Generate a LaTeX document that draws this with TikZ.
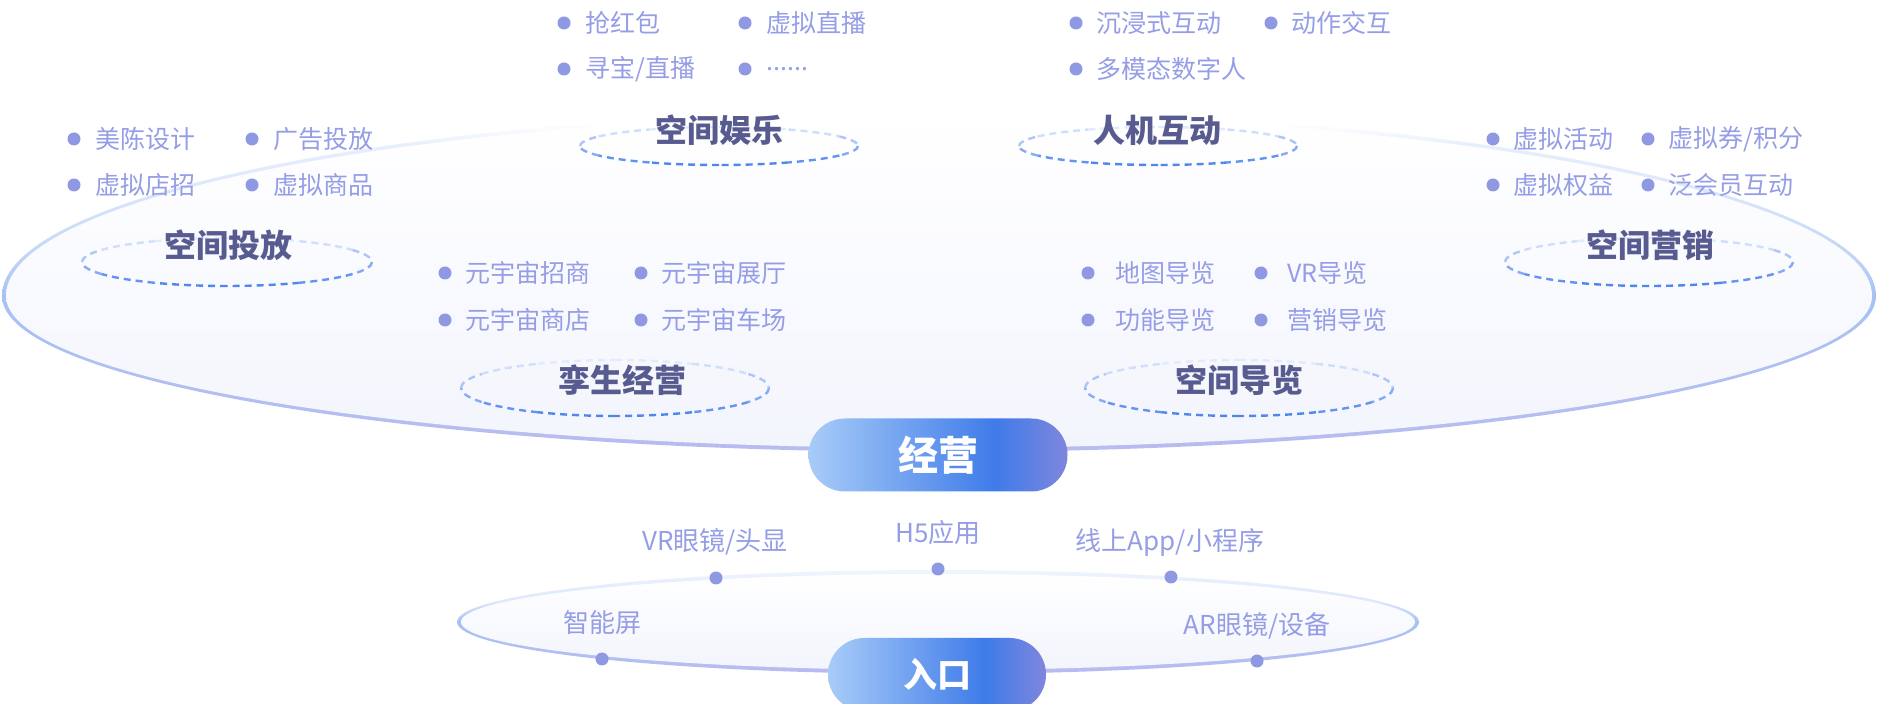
\documentclass[tikz,border=0pt]{standalone}
\usepackage{fontspec}
\setmainfont{Noto Sans CJK SC}
\usetikzlibrary{positioning}

\definecolor{itemc}{HTML}{959DE6}
\definecolor{dotc}{HTML}{8F98E3}
\definecolor{titlec}{HTML}{585B8F}
\definecolor{dashc}{HTML}{4D84EE}
\definecolor{pillL}{HTML}{A8CCF8}
\definecolor{pillM}{HTML}{3F7BE9}
\definecolor{pillR}{HTML}{7F86DD}
\definecolor{fillB}{HTML}{F3F5FD}
\definecolor{ringA}{HTML}{B8BCF0}
\definecolor{ringB}{HTML}{B2BFF2}
\definecolor{ringC}{HTML}{A6C2F4}
\definecolor{ringD}{HTML}{C3D6F7}
\definecolor{ringE}{HTML}{DEE8FB}
\definecolor{ringF}{HTML}{E8EFFC}
\definecolor{ringG}{HTML}{F0F5FE}

\pgfdeclarehorizontalshading{pillshade}{100bp}{color(0bp)=(pillL); color(25bp)=(pillL); color(61bp)=(pillM); color(75bp)=(pillR); color(100bp)=(pillR)}
\pgfdeclareverticalshading{bigring}{100bp}{color(0bp)=(ringA); color(25bp)=(ringA); color(35bp)=(ringB); color(48bp)=(ringC); color(54bp)=(ringD); color(64bp)=(ringE); color(70bp)=(ringF); color(73bp)=(white); color(100bp)=(white)}
\pgfdeclareverticalshading{smallring}{100bp}{color(0bp)=(ringA); color(25bp)=(ringA); color(37bp)=(ringB); color(50bp)=(ringC); color(60bp)=(ringE); color(70bp)=(ringF); color(75bp)=(ringG); color(100bp)=(ringG)}

\begin{document}
\begin{tikzpicture}[x=0.5pt,y=-0.5pt,
  dot/.style={circle,fill=dotc,inner sep=0pt,minimum size=6.5pt},
  item/.style={anchor=west,inner sep=0pt,text=itemc,font=\fontsize{12.5}{15}\selectfont},
  entry/.style={inner sep=0pt,text=itemc,font=\fontsize{13}{16}\selectfont},
  title/.style={inner sep=0pt,text=titlec,font=\bfseries\fontsize{16}{19}\selectfont},
  pill/.style={shade,shading=pillshade,rounded corners=18.2pt,minimum height=36.5pt,text=white,inner sep=0pt}]
\useasboundingbox (0,0) rectangle (1878,704);
\clip (0,0) rectangle (1878,704);
\fill[white] (0,0) rectangle (1878,704);

% outer ring
\shade[shading=bigring] (2,296) arc[start angle=180,end angle=360,x radius=937,y radius=186]
  arc[start angle=0,end angle=180,x radius=937,y radius=156] -- cycle;
\shade[top color=white,bottom color=fillB] (6,296) arc[start angle=180,end angle=360,x radius=933,y radius=182]
  arc[start angle=0,end angle=180,x radius=933,y radius=152] -- cycle;

% entry ring
\shade[shading=smallring] (938,622) ellipse[x radius=481,y radius=52];
\shade[top color=white,bottom color=fillB] (938,622) ellipse[x radius=477,y radius=48];

% dashed rings under the titles
\foreach \cx/\cy/\rx/\ry in {227/262/145/24,719/146/139/19,1158/146/139/19,1649/262/144/24,615/388/154/28,1239/388/154/28}{
  \foreach \a in {0,30,...,330}{
    \pgfmathsetmacro\p{int(15+85*(1+sin(\a+15))/2)}
    \draw[dashc!\p!white,line width=1.2pt,dash pattern=on 3.5pt off 2.5pt]
      ({\cx+\rx*cos(\a)},{\cy+\ry*sin(\a)}) arc[start angle=\a,delta angle=30,x radius=\rx,y radius=\ry];
  }
}

% space placement
\node[title] (tfang) at (228,245) {空间投放};
\node[dot] (f1) at (74,139) {};
\node[item] (f1t) at (95,139) {美陈设计};
\node[dot] (f2) at (252,139) {};
\node[item] (f2t) at (273,139) {广告投放};
\node[dot] (f3) at (74,185) {};
\node[item] (f3t) at (95,185) {虚拟店招};
\node[dot] (f4) at (252,185) {};
\node[item] (f4t) at (273,185) {虚拟商品};

% space entertainment
\node[title] (tyule) at (719,130) {空间娱乐};
\node[dot] (y1) at (564,23) {};
\node[item] (y1t) at (585,23) {抢红包};
\node[dot] (y2) at (745,23) {};
\node[item] (y2t) at (766,23) {虚拟直播};
\node[dot] (y3) at (564,69) {};
\node[item] (y3t) at (585,69) {寻宝/直播};
\node[dot] (y4) at (745,69) {};
\node[item] (y4t) at (766,69) {......};

% interaction
\node[title] (thudong) at (1157,130) {人机互动};
\node[dot] (h1) at (1076,23) {};
\node[item] (h1t) at (1096,23) {沉浸式互动};
\node[dot] (h2) at (1271,23) {};
\node[item] (h2t) at (1291,23) {动作交互};
\node[dot] (h3) at (1076,69) {};
\node[item] (h3t) at (1096,69) {多模态数字人};

% marketing
\node[title] (tyingx) at (1650,245) {空间营销};
\node[dot] (m1) at (1493,139) {};
\node[item] (m1t) at (1513,139) {虚拟活动};
\node[dot] (m2) at (1648,139) {};
\node[item] (m2t) at (1668,139) {虚拟券/积分};
\node[dot] (m3) at (1493,185) {};
\node[item] (m3t) at (1513,185) {虚拟权益};
\node[dot] (m4) at (1648,185) {};
\node[item] (m4t) at (1668,185) {泛会员互动};

% twin operation
\node[title] (tluan) at (622,380) {孪生经营};
\node[dot] (l1) at (445,273) {};
\node[item] (l1t) at (465,273) {元宇宙招商};
\node[dot] (l2) at (641,273) {};
\node[item] (l2t) at (661,273) {元宇宙展厅};
\node[dot] (l3) at (445,320) {};
\node[item] (l3t) at (465,320) {元宇宙商店};
\node[dot] (l4) at (641,320) {};
\node[item] (l4t) at (661,320) {元宇宙车场};

% guide
\node[title] (tdaol) at (1239,380) {空间导览};
\node[dot] (d1) at (1088,273) {};
\node[item] (d1t) at (1115,273) {地图导览};
\node[dot] (d2) at (1261,273) {};
\node[item] (d2t) at (1287,273) {VR导览};
\node[dot] (d3) at (1088,320) {};
\node[item] (d3t) at (1115,320) {功能导览};
\node[dot] (d4) at (1261,320) {};
\node[item] (d4t) at (1287,320) {营销导览};

\node[pill,minimum width=129.5pt,font=\bfseries\fontsize{20}{24}\selectfont] (jingying) at (938,455) {经营};

% entries
\node[dot] (e1) at (716,578) {};
\node[entry] (e1t) at (715,542) {VR眼镜/头显};
\node[dot] (e2) at (938,569) {};
\node[entry] (e2t) at (938,533) {H5应用};
\node[dot] (e3) at (1171,577) {};
\node[entry] (e3t) at (1170,542) {线上App/小程序};
\node[dot] (e4) at (602,659) {};
\node[entry] (e4t) at (602,623) {智能屏};
\node[dot] (e5) at (1257,661) {};
\node[entry] (e5t) at (1257,626) {AR眼镜/设备};

\node[pill,minimum width=109pt,font=\bfseries\fontsize{17}{20}\selectfont] (rukou) at (937,674.5) {入口};
\end{tikzpicture}
\end{document}
